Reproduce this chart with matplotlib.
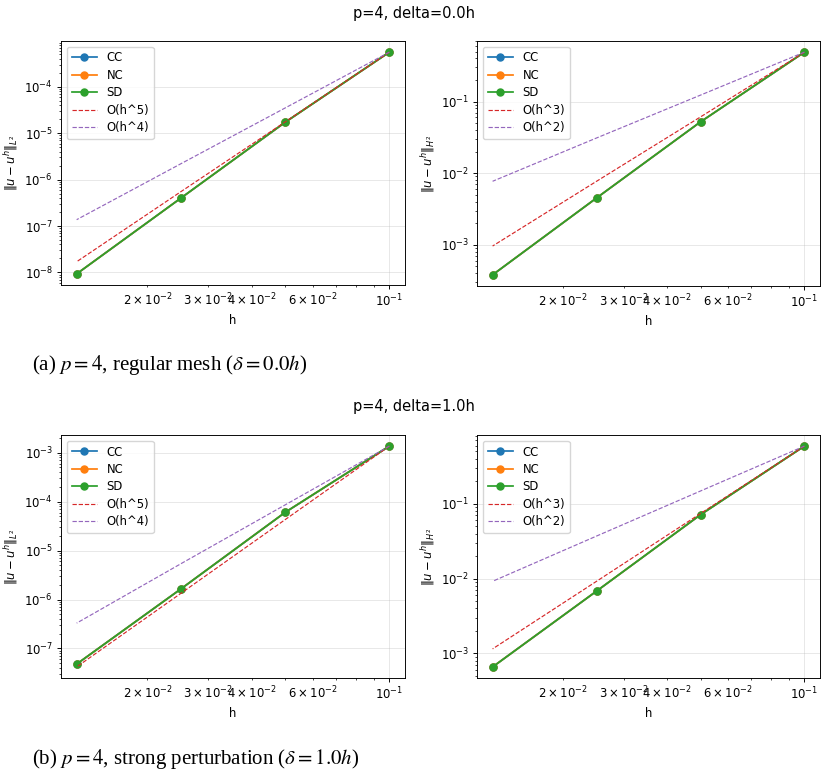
import numpy as np
import matplotlib
matplotlib.use('Agg')
import matplotlib.pyplot as plt

# mesh sizes
h = [0.1, 0.05, 0.025, 0.0125]

# p=4, delta=0.0h
l2_d0 = [5.6e-4, 1.72e-5, 4.0e-7, 9.3e-9]
l2_ref5_d0 = [5.6e-4, 1.75e-5, 5.5e-7, 1.7e-8]
l2_ref4_d0 = [5.6e-4, 3.5e-5, 2.2e-6, 1.37e-7]
h2_d0 = [0.49, 0.052, 0.0045, 3.8e-4]
h2_ref3_d0 = [0.49, 0.061, 7.7e-3, 9.6e-4]
h2_ref2_d0 = [0.49, 0.123, 0.031, 7.7e-3]

# p=4, delta=1.0h
l2_d1 = [1.37e-3, 6.05e-5, 1.65e-6, 4.8e-8]
l2_ref5_d1 = [1.37e-3, 4.3e-5, 1.34e-6, 4.2e-8]
l2_ref4_d1 = [1.37e-3, 8.6e-5, 5.4e-6, 3.3e-7]
h2_d1 = [0.59, 0.0713, 0.0068, 6.6e-4]
h2_ref3_d1 = [0.59, 0.074, 9.2e-3, 1.15e-3]
h2_ref2_d1 = [0.59, 0.148, 0.037, 9.2e-3]

methods = ['CC', 'NC', 'SD']
colors = ['C0', 'C1', 'C2']

# everything drawn at ~0.84 of matplotlib defaults
s = 0.84
plt.rcParams.update({
    'font.size': 10 * s,
    'axes.linewidth': 0.8 * s,
    'xtick.major.width': 0.8 * s, 'ytick.major.width': 0.8 * s,
    'xtick.minor.width': 0.6 * s, 'ytick.minor.width': 0.6 * s,
    'xtick.major.size': 3.5 * s, 'ytick.major.size': 3.5 * s,
    'xtick.minor.size': 2 * s, 'ytick.minor.size': 2 * s,
    'xtick.major.pad': 3.5 * s, 'ytick.major.pad': 3.5 * s,
    'axes.labelpad': 3.5 * s,
    'legend.fontsize': 10 * s,
    'mathtext.fontset': 'dejavusans',
})

fig = plt.figure(figsize=(8.28, 7.75), dpi=100)


def panel(ax, err, ref_a, ref_b, lab_a, lab_b, ylab):
    for m, c in zip(methods, colors):
        ax.loglog(h, err, 'o-', color=c, label=m, lw=1.5 * s, ms=6 * s)
    ax.loglog(h, ref_a, '--', color='C3', lw=1.0 * s, label=lab_a)
    ax.loglog(h, ref_b, '--', color='C4', lw=1.0 * s, label=lab_b)
    ax.set_xlabel('h')
    ax.set_ylabel(ylab)
    ax.grid(True, which='major', alpha=0.3, lw=0.8 * s)
    ax.legend(loc='upper left', labelspacing=0.38, handlelength=2.2)


l2lab = r'$\|u - u^h\|_{L^2}$'
h2lab = r'$\|u - u^h\|_{H^2}$'

ax1 = fig.add_axes([0.0737, 0.6323, 0.4155, 0.3148])
panel(ax1, l2_d0, l2_ref5_d0, l2_ref4_d0, 'O(h^5)', 'O(h^4)', l2lab)
ax2 = fig.add_axes([0.5761, 0.6310, 0.4143, 0.3161])
panel(ax2, h2_d0, h2_ref3_d0, h2_ref2_d0, 'O(h^3)', 'O(h^2)', h2lab)
ax3 = fig.add_axes([0.0737, 0.1252, 0.4155, 0.3135])
panel(ax3, l2_d1, l2_ref5_d1, l2_ref4_d1, 'O(h^5)', 'O(h^4)', l2lab)
ax4 = fig.add_axes([0.5761, 0.1252, 0.4143, 0.3135])
panel(ax4, h2_d1, h2_ref3_d1, h2_ref2_d1, 'O(h^3)', 'O(h^2)', h2lab)

fig.text(0.5, 0.982, 'p=4, delta=0.0h', ha='center', va='center', fontsize=12.5 * s)
fig.text(0.5, 0.475, 'p=4, delta=1.0h', ha='center', va='center', fontsize=12.5 * s)

cap = dict(ha='left', va='center', fontsize=15, family='Liberation Serif',
           math_fontfamily='stix')
fig.text(0.039, 0.529, r'(a) $p=4$, regular mesh ($\delta = 0.0h$)', **cap)
fig.text(0.039, 0.0206, r'(b) $p=4$, strong perturbation ($\delta = 1.0h$)', **cap)

fig.savefig('out.png', dpi=100)
